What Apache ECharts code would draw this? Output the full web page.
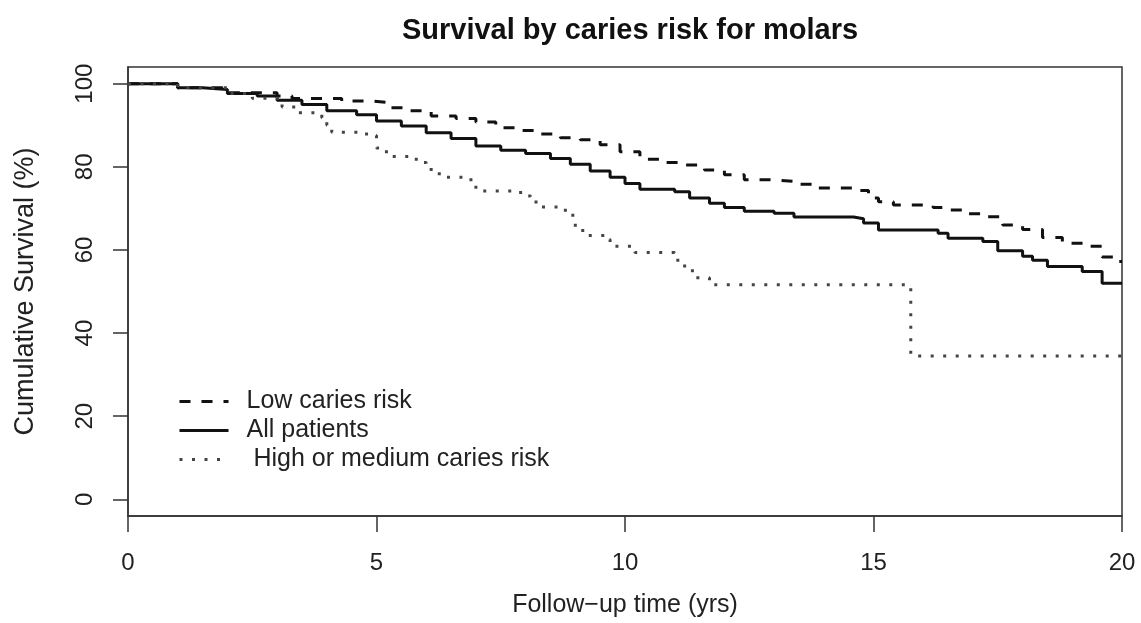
<!DOCTYPE html>
<html>
<head>
<meta charset="utf-8">
<script src="https://cdn.jsdelivr.net/npm/echarts@6/dist/echarts.min.js"></script>
<style>html,body{margin:0;padding:0;background:#fff}#c{width:1141px;height:623px}</style>
</head>
<body>
<div id="c"></div>
<script>
var seriesNames = ['Low caries risk', 'All patients', ' High or medium caries risk'];
var xTicks = [0, 5, 10, 15, 20];
var yTicks = [0, 20, 40, 60, 80, 100];

var lowTimes = [0, 1.0, 2.0, 3.0, 3.3, 4.3, 4.9, 5.3, 5.6, 6.1, 6.6, 7.0, 7.4, 7.8, 8.2, 8.7, 9.1, 9.5, 9.9, 10.3, 10.7, 11.2, 11.6, 12.0, 12.4, 12.9, 13.4, 13.8, 14.7, 14.9, 15.1, 15.4, 16.2, 16.4, 16.9, 17.3, 17.6, 18.0, 18.4, 18.8, 19.3, 19.6, 19.9, 20];
var lowSurv  = [100, 99.0, 97.8, 97.0, 96.4, 95.8, 95.4, 94.2, 93.5, 92.2, 91.6, 90.8, 89.4, 88.7, 87.9, 87.0, 86.5, 85.3, 83.6, 81.8, 81.0, 80.4, 79.2, 78.1, 76.9, 76.5, 75.8, 74.9, 74.3, 72.5, 71.6, 70.8, 70.2, 69.6, 68.7, 68.0, 66.0, 64.9, 63.0, 61.6, 60.9, 58.3, 57.2, 57.2];

var allTimes = [0, 1.0, 1.5, 2.0, 2.6, 3.0, 3.5, 4.0, 4.6, 5.0, 5.5, 6.0, 6.5, 7.0, 7.5, 8.0, 8.5, 8.9, 9.3, 9.7, 10.0, 10.3, 11.0, 11.3, 11.7, 12.0, 12.4, 13.0, 13.4, 14.6, 14.8, 15.1, 16.3, 16.5, 17.2, 17.5, 18.0, 18.2, 18.5, 19.2, 19.6, 20];
var allSurv  = [100, 99.0, 98.6, 97.6, 97.0, 96.0, 95.0, 93.5, 92.5, 91.0, 89.8, 88.2, 86.8, 85.0, 84.0, 83.2, 82.0, 80.6, 79.0, 77.5, 76.0, 74.6, 74.0, 72.5, 71.2, 70.2, 69.3, 68.8, 67.9, 67.5, 66.5, 64.8, 64.0, 62.8, 62.0, 59.8, 58.5, 57.5, 56.0, 54.8, 52.0, 52.0];

var highTimes = [0, 1.0, 2.0, 2.5, 3.1, 3.4, 3.9, 4.0, 4.1, 4.8, 5.0, 5.2, 5.8, 6.0, 6.1, 6.3, 6.9, 7.0, 7.9, 8.1, 8.3, 8.8, 8.95, 9.0, 9.2, 9.6, 9.7, 10.2, 11.0, 11.2, 11.4, 11.7, 15.75, 20];
var highSurv  = [100, 99.0, 97.6, 96.5, 94.4, 93.0, 91.8, 90.0, 88.3, 87.5, 84.5, 82.5, 81.0, 80.0, 78.3, 77.5, 75.5, 74.2, 73.0, 71.5, 70.3, 68.8, 67.0, 64.7, 63.5, 62.5, 60.9, 59.4, 57.5, 55.0, 53.3, 51.6, 34.5, 34.5];

function pairs(t, v) { return t.map(function (x, i) { return [x, v[i]]; }); }

var FONT = '"Liberation Sans", Arial, Helvetica, sans-serif';
var chart = echarts.init(document.getElementById('c'), null, { renderer: 'canvas' });
chart.setOption({
  animation: false,
  backgroundColor: '#fff',
  textStyle: { fontFamily: FONT },
  title: {
    text: 'Survival by caries risk for molars',
    left: 625, top: 11, textAlign: 'center',
    textStyle: { fontFamily: FONT, fontSize: 29, fontWeight: 'bold', color: '#111' }
  },
  grid: {
    left: 128, right: 19, top: 67, bottom: 107,
    show: true, borderColor: '#333', borderWidth: 1.5, backgroundColor: 'transparent'
  },
  legend: {
    orient: 'vertical', left: 173, top: 384,
    itemWidth: 49, itemHeight: 2, itemGap: 4,
    data: seriesNames,
    itemStyle: { color: 'transparent', borderColor: 'transparent', borderWidth: 0 },
    lineStyle: { width: 3 },
    textStyle: { fontFamily: FONT, fontSize: 25, color: '#222', lineHeight: 25, padding: [0, 0, 0, 13] },
    selectedMode: false
  },
  xAxis: {
    type: 'value', min: 0, max: 20, interval: 5,
    name: 'Follow\u2212up time (yrs)', nameLocation: 'middle', nameGap: 77,
    nameTextStyle: { fontFamily: FONT, fontSize: 25, color: '#222' },
    axisLine: { show: true, onZero: false, lineStyle: { color: '#333', width: 1.5 } },
    axisTick: { show: true, length: 16, lineStyle: { color: '#333', width: 1.5 } },
    axisLabel: { fontFamily: FONT, fontSize: 24, color: '#222', margin: 35, customValues: xTicks },
    splitLine: { show: false }
  },
  yAxis: {
    type: 'value', min: -4, max: 104,
    name: 'Cumulative Survival (%)', nameLocation: 'middle', nameGap: 89,
    nameTextStyle: { fontFamily: FONT, fontSize: 27, color: '#222' },
    axisLine: { show: true, onZero: false, lineStyle: { color: '#333', width: 1.5 } },
    axisTick: { show: true, length: 15, customValues: yTicks, lineStyle: { color: '#333', width: 1.5 } },
    axisLabel: { fontFamily: FONT, fontSize: 24, color: '#222', margin: 31, rotate: 90, customValues: yTicks },
    splitLine: { show: false }
  },
  series: [
    {
      name: seriesNames[0], type: 'line', step: 'end', symbol: 'none',
      data: pairs(lowTimes, lowSurv),
      lineStyle: { color: '#111', width: 3, type: [11, 11] },
      itemStyle: { color: '#111' }
    },
    {
      name: seriesNames[1], type: 'line', step: 'end', symbol: 'none',
      data: pairs(allTimes, allSurv),
      lineStyle: { color: '#111', width: 3, type: 'solid' },
      itemStyle: { color: '#111' }
    },
    {
      name: seriesNames[2], type: 'line', step: 'end', symbol: 'none',
      data: pairs(highTimes, highSurv),
      lineStyle: { color: '#444', width: 3, type: [3, 9.5] },
      itemStyle: { color: '#444' }
    }
  ]
});
</script>
</body>
</html>
